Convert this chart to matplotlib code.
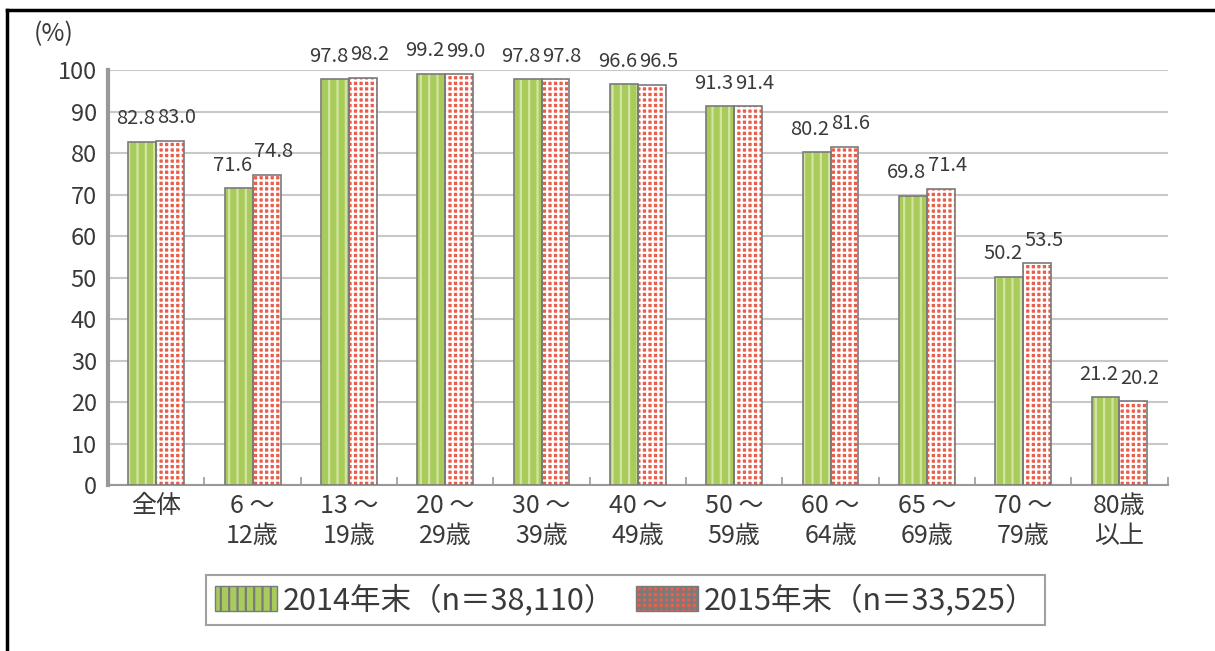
import numpy as np
import matplotlib
matplotlib.use("Agg")
import matplotlib.pyplot as plt
from matplotlib.lines import Line2D

plt.rcParams['font.family'] = ['Noto Sans CJK JP', 'DejaVu Sans']

# data
categories = ["全体", "6 ～\n12歳", "13 ～\n19歳", "20 ～\n29歳", "30 ～\n39歳", "40 ～\n49歳",
              "50 ～\n59歳", "60 ～\n64歳", "65 ～\n69歳", "70 ～\n79歳", "80歳\n以上"]
values_2014 = [82.8, 71.6, 97.8, 99.2, 97.8, 96.6, 91.3, 80.2, 69.8, 50.2, 21.2]
values_2015 = [83.0, 74.8, 98.2, 99.0, 97.8, 96.5, 91.4, 81.6, 71.4, 53.5, 20.2]
label_2014 = "2014年末（n＝38,110）"
label_2015 = "2015年末（n＝33,525）"
yticks = [0, 10, 20, 30, 40, 50, 60, 70, 80, 90, 100]

text_color = "#3a3a3a"
green = "#a8cb5c"
green_hatch = "#d2e6a0"
red = "#ea5f4c"

fig = plt.figure(figsize=(12.15, 6.51), dpi=100)
ax = fig.add_axes([0.089, 0.255, 0.872, 0.637])

x = np.arange(len(categories))
w = 0.29

plt.rcParams['hatch.linewidth'] = 1.6
# green bars with light vertical stripes
ax.bar(x - w / 2, values_2014, w, color=green, edgecolor=green_hatch, hatch="||", linewidth=0, zorder=3)
ax.bar(x - w / 2, values_2014, w, fill=False, edgecolor="#7a7a7a", linewidth=1.2, zorder=4)
# red bars with white grid
ax.bar(x + w / 2, values_2015, w, color=red, edgecolor="white", hatch="+++", linewidth=0, zorder=3)
ax.bar(x + w / 2, values_2015, w, fill=False, edgecolor="#7a7a7a", linewidth=1.2, zorder=4)

# value labels: 2014 to the left of the pair centre, 2015 to the right
for xi, v in zip(x, values_2014):
    ax.text(xi - 0.01, v + 3, f"{v:.1f}", ha="right", va="bottom", fontsize=14.5, color=text_color)
for xi, v in zip(x, values_2015):
    ax.text(xi + 0.01, v + 3, f"{v:.1f}", ha="left", va="bottom", fontsize=14.5, color=text_color)

ax.set_xlim(-0.5, len(categories) - 0.5)
ax.set_ylim(0, 100)
ax.set_yticks(yticks)
ax.set_yticklabels([str(t) for t in yticks], fontsize=17, color=text_color)
ax.set_xticks(x)
ax.set_xticklabels(categories, fontsize=18, color=text_color, linespacing=1.2)
ax.tick_params(axis="x", length=0, pad=6)
ax.tick_params(axis="y", length=0, pad=8)
ax.set_xticks(np.arange(len(categories)) + 0.5, minor=True)
ax.tick_params(axis="x", which="minor", direction="in", length=6, color="#999999", width=1.2)

ax.yaxis.grid(True, color="#c8c8c8", linewidth=1.5, zorder=0)
ax.set_axisbelow(True)
for s in ["top", "right"]:
    ax.spines[s].set_visible(False)
ax.spines["left"].set_color("#999999")
ax.spines["left"].set_linewidth(3)
ax.spines["bottom"].set_color("#999999")
ax.spines["bottom"].set_linewidth(1.5)

fig.text(0.028, 0.947, "(%)", fontsize=18, color=text_color, ha="left", va="center")

handles = [
    plt.Rectangle((0, 0), 1, 1, facecolor=green, edgecolor="#7a7a7a", hatch="||"),
    plt.Rectangle((0, 0), 1, 1, facecolor=red, edgecolor="#7a7a7a", hatch="+++"),
]
leg = fig.legend(handles, [label_2014, label_2015], loc="center", bbox_to_anchor=(0.515, 0.078),
                 ncol=2, fontsize=22, frameon=True, fancybox=False, edgecolor="#888888",
                 handlelength=2.0, handleheight=0.9, columnspacing=0.7, handletextpad=0.2,
                 borderpad=0.3, labelcolor=text_color)
leg.get_frame().set_linewidth(1.5)

# outer frame lines (top and left)
fig.add_artist(Line2D([0.006, 1.0], [0.985, 0.985], color="black", linewidth=2.5))
fig.add_artist(Line2D([0.006, 0.006], [0.0, 0.985], color="black", linewidth=2.5))

fig.savefig("out.png", dpi=100)
